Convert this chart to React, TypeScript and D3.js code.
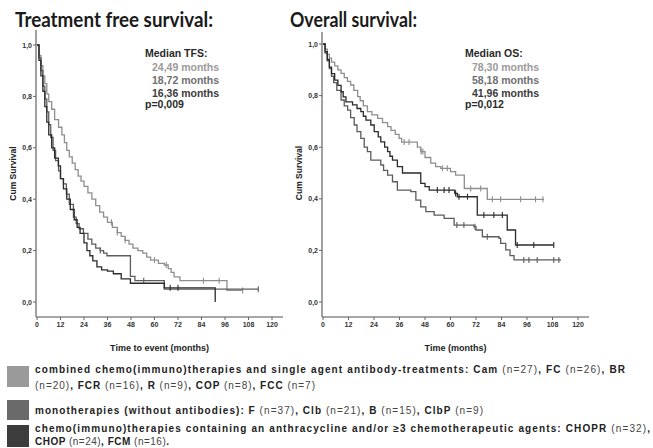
import React from "react";
import * as d3 from "d3";

type Pt = [number, number];

// ---------- data ----------
const monthTicks = [0, 12, 24, 36, 48, 60, 72, 84, 96, 108, 120];
const survTicks = [0, 0.2, 0.4, 0.6, 0.8, 1.0];
const survTickLabels = ["0,0", "0,2", "0,4", "0,6", "0,8", "1,0"];

// Treatment free survival (time in months, cumulative survival)
const tfsCombined: Pt[] = [
  [0, 1], [1, 0.96], [2, 0.92], [3, 0.88], [4, 0.85], [5, 0.81], [6, 0.78], [7.5, 0.75], [9, 0.71],
  [11, 0.68], [12.7, 0.65], [14, 0.62], [15.2, 0.59], [16.5, 0.565], [18, 0.54], [19.5, 0.515],
  [21, 0.49], [22.5, 0.47], [24, 0.45], [26, 0.425], [28, 0.4], [30, 0.375], [32, 0.35], [34, 0.33],
  [36, 0.31], [38.5, 0.29], [41, 0.27], [43, 0.255], [45, 0.24], [47, 0.225], [49, 0.21], [51.5, 0.2],
  [54, 0.19], [56, 0.175], [58, 0.163], [62, 0.15], [65, 0.144], [67, 0.13], [68.5, 0.115],
  [70, 0.098], [73, 0.083], [97, 0.045], [105, 0.045],
];
const tfsCombinedCensor = [38, 41, 45, 60, 66, 85, 93, 105];

const tfsMono: Pt[] = [
  [0, 1], [1, 0.95], [2, 0.9], [3, 0.84], [4, 0.79], [5, 0.74], [6, 0.69], [7, 0.64], [8.2, 0.59],
  [9.5, 0.55], [11, 0.51], [12, 0.48], [13.5, 0.46], [15, 0.42], [16.5, 0.38], [18.6, 0.33],
  [20, 0.305], [21.5, 0.285], [23.7, 0.267], [26, 0.245], [28, 0.225], [30, 0.21], [32.3, 0.2],
  [34, 0.19], [35.7, 0.18], [47.7, 0.1], [50, 0.083], [65, 0.05], [113, 0.05],
];
const tfsMonoCensor = [32.3, 54.5, 113];

const tfsAnthra: Pt[] = [
  [0, 1], [1, 0.94], [2, 0.88], [3, 0.82], [4, 0.76], [5, 0.7], [6, 0.65], [7.5, 0.6], [9, 0.56],
  [10.9, 0.53], [12, 0.48], [13.5, 0.44], [15.2, 0.4], [17, 0.36], [19, 0.32], [20.5, 0.29],
  [22, 0.267], [24, 0.23], [25.5, 0.2], [27, 0.18], [28.5, 0.16], [30.6, 0.137], [33, 0.125],
  [36, 0.12], [39, 0.11], [43, 0.09], [47.7, 0.073], [65, 0.055], [91, 0],
];
const tfsAnthraCensor = [68, 72];

// Overall survival
const osCombined: Pt[] = [
  [0, 1], [1, 0.98], [2, 0.96], [3, 0.945], [4, 0.93], [5.5, 0.915], [7, 0.9], [8.5, 0.886],
  [10, 0.87], [11.5, 0.855], [13, 0.841], [14.5, 0.82], [16.3, 0.796], [17.5, 0.78], [19, 0.76],
  [20.9, 0.738], [23, 0.725], [25.7, 0.712], [28, 0.695], [30.4, 0.68], [32, 0.665], [34, 0.65],
  [35.8, 0.634], [37, 0.62], [44.4, 0.6], [46, 0.583], [48, 0.56], [50.7, 0.538], [53, 0.525],
  [55.4, 0.518], [60, 0.505], [62.4, 0.492], [66.5, 0.44], [77.3, 0.398], [104, 0.398],
];
const osCombinedCensor = [38.2, 40.5, 46.2, 47, 56.2, 58.5, 69.5, 74.2, 79.7, 83.6, 93, 100, 103.5];

const osAnthra: Pt[] = [
  [0, 1], [1, 0.97], [2, 0.94], [3, 0.91], [4, 0.885], [5.5, 0.86], [7, 0.84], [8.5, 0.815],
  [9.5, 0.795], [10.8, 0.776], [13.9, 0.764], [16, 0.75], [17.8, 0.738], [19, 0.72], [20.2, 0.705],
  [22.5, 0.686], [24.1, 0.66], [26, 0.64], [27.2, 0.621], [29, 0.6], [30.4, 0.583], [31.5, 0.565],
  [32.7, 0.55], [35, 0.525], [37.4, 0.5], [46, 0.46], [48, 0.447], [50, 0.434], [62, 0.421],
  [63.2, 0.408], [72.6, 0.337], [86.7, 0.279], [90.6, 0.221], [108.6, 0.221],
];
const osAnthraCensor = [53.8, 57, 59.3, 62.4, 64, 68, 75.7, 80.4, 84.4, 91.4, 99.2, 108.6];

const osMono: Pt[] = [
  [0, 1], [1, 0.965], [2, 0.935], [3, 0.905], [4, 0.875], [5, 0.85], [6.5, 0.82], [8.5, 0.783],
  [10, 0.76], [11.6, 0.744], [13, 0.715], [14.7, 0.686], [16, 0.66], [17.8, 0.634], [19.4, 0.6],
  [20.9, 0.583], [22.5, 0.55], [27.2, 0.531], [28.5, 0.51], [30.4, 0.492], [32.7, 0.466],
  [35, 0.434], [41.3, 0.428], [43.7, 0.395], [46, 0.369], [48.4, 0.35], [52.3, 0.337], [57, 0.324],
  [61.7, 0.298], [71, 0.292], [72, 0.279], [75, 0.253], [82.8, 0.247], [83.6, 0.227], [86, 0.202],
  [88, 0.18], [89.9, 0.163], [112, 0.163],
];
const osMonoCensor = [63, 66.3, 71.5, 77.3, 94.5, 96.9, 100.8, 108.6, 111];

const tfsMedians = ["24,49 months", "18,72 months", "16,36 months"];
const osMedians = ["78,30 months", "58,18 months", "41,96 months"];

// ---------- styles ----------
const C_LIGHT = "#8e8e8e";
const C_MED = "#5c5c5c";
const C_DARK = "#2b2b2b";
const FONT = "'Liberation Sans', Arial, sans-serif";

function valueAt(pts: Pt[], t: number) {
  let v = pts[0][1];
  for (const p of pts) if (p[0] <= t) v = p[1];
  return v;
}

type Series = { pts: Pt[]; censor: number[]; color: string };

function KMPanel(props: {
  x0: number; x1: number; axisEnd: number; yTop: number; yBottom: number; axisTop: number;
  axisY: number; series: Series[]; xTitle: string;
}) {
  const { x0, x1, axisEnd, yTop, yBottom, axisTop, axisY, series, xTitle } = props;
  const x = d3.scaleLinear().domain([0, 120]).range([x0, x1]);
  const y = d3.scaleLinear().domain([0, 1]).range([yBottom, yTop]);
  const line = d3.line<Pt>().x((d) => x(d[0])).y((d) => y(d[1])).curve(d3.curveStepAfter);
  const ax = x0 - 1;
  return (
    <g fontFamily={FONT}>
      <line x1={ax} x2={ax} y1={axisTop} y2={axisY} stroke="#8a8a8a" strokeWidth={1.6} />
      <line x1={ax} x2={axisEnd} y1={axisY} y2={axisY} stroke="#8a8a8a" strokeWidth={1.6} />
      {survTicks.map((v, i) => (
        <g key={"y" + i}>
          <line x1={ax - 3} x2={ax} y1={y(v)} y2={y(v)} stroke="#666" strokeWidth={1} />
          <text x={ax - 4} y={y(v) + 2.5} fontSize={7} fontWeight="bold" textAnchor="end" fill="#333">
            {survTickLabels[i]}
          </text>
        </g>
      ))}
      {monthTicks.map((v) => (
        <g key={"x" + v}>
          <line x1={x(v)} x2={x(v)} y1={axisY} y2={axisY + 3} stroke="#666" strokeWidth={1} />
          <text x={x(v)} y={axisY + 10} fontSize={7} fontWeight="bold" textAnchor="middle" fill="#333">
            {v}
          </text>
        </g>
      ))}
      <text x={(ax + axisEnd) / 2} y={axisY + 34} fontSize={9} fontWeight="bold" textAnchor="middle" fill="#222">
        {xTitle}
      </text>
      <text
        transform={`translate(${ax - 20},${(yTop + yBottom) / 2}) rotate(-90)`}
        fontSize={8.5} fontWeight="bold" textAnchor="middle" fill="#222"
      >
        Cum Survival
      </text>
      {series.map((s, i) => (
        <g key={"s" + i}>
          <path d={line(s.pts) || ""} fill="none" stroke={s.color} strokeWidth={1.3} />
          {s.censor.map((c, j) => (
            <line key={j} x1={x(c)} x2={x(c)} y1={y(valueAt(s.pts, c)) - 3} y2={y(valueAt(s.pts, c)) + 3}
              stroke={s.color} strokeWidth={1.1} />
          ))}
        </g>
      ))}
    </g>
  );
}

function Medians(props: { x: number; title: string; lines: string[]; p: string }) {
  const { x, title, lines, p } = props;
  const colors = ["#9a9a9a", "#707070", "#3a3a3a"];
  return (
    <g fontFamily={FONT} fontWeight="bold" fontSize={10.5}>
      <text x={x} y={57} fill="#2a2a2a">{title}</text>
      {lines.map((l, i) => (
        <text key={i} x={x + 7} y={70.5 + i * 13} fill={colors[i]}>{l}</text>
      ))}
      <text x={x} y={108} fill="#2a2a2a">{p}</text>
    </g>
  );
}

type Seg = { t: string; b: boolean };
function LegendLine(props: { x: number; y: number; w?: number; segs: Seg[] }) {
  const { x, y, w, segs } = props;
  return (
    <text x={x} y={y} fontFamily={FONT} fontSize={10} fill="#222"
      {...(w ? { textLength: w, lengthAdjust: "spacing" } : {})}>
      {segs.map((s, i) => (
        <tspan key={i} fontWeight={s.b ? "bold" : "normal"} fill={s.b ? "#222" : "#444"}>{s.t}</tspan>
      ))}
    </text>
  );
}

const legendColors = ["#9a9a9a", "#6a6a6a", "#3c3c3c"];

export default function App() {
  return (
    <svg width={653} height={448} style={{ position: "absolute", left: 0, top: 0, background: "#fff" }}>
      <rect width={653} height={448} fill="#fff" />
      <text x={15} y={27} fontFamily="Lato, 'Open Sans', sans-serif" fontWeight="bold" fontSize={20}
        textLength={198} lengthAdjust="spacingAndGlyphs" fill="#1a1a1a">
        Treatment free survival:
      </text>
      <text x={290} y={27} fontFamily="Lato, 'Open Sans', sans-serif" fontWeight="bold" fontSize={20}
        textLength={127} lengthAdjust="spacingAndGlyphs" fill="#1a1a1a">
        Overall survival:
      </text>

      <KMPanel x0={37} x1={272} axisEnd={283} yTop={45} yBottom={302} axisTop={30} axisY={317}
        xTitle="Time to event (months)"
        series={[
          { pts: tfsCombined, censor: tfsCombinedCensor, color: C_LIGHT },
          { pts: tfsMono, censor: tfsMonoCensor, color: C_MED },
          { pts: tfsAnthra, censor: tfsAnthraCensor, color: C_DARK },
        ]} />
      <KMPanel x0={323} x1={578} axisEnd={589} yTop={44} yBottom={302} axisTop={32} axisY={317}
        xTitle="Time (months)"
        series={[
          { pts: osCombined, censor: osCombinedCensor, color: C_LIGHT },
          { pts: osMono, censor: osMonoCensor, color: C_MED },
          { pts: osAnthra, censor: osAnthraCensor, color: C_DARK },
        ]} />

      <Medians x={145} title="Median TFS:" lines={tfsMedians} p="p=0,009" />
      <Medians x={465} title="Median OS:" lines={osMedians} p="p=0,012" />

      <rect x={7} y={366} width={22} height={21} fill={legendColors[0]} />
      <rect x={7} y={400} width={22} height={20} fill={legendColors[1]} />
      <rect x={7} y={425} width={22} height={22} fill={legendColors[2]} />

      <LegendLine x={35} y={373} w={590} segs={[
        { t: "combined chemo(immuno)therapies and single agent antibody-treatments: Cam ", b: true },
        { t: "(n=27)", b: false }, { t: ", FC ", b: true }, { t: "(n=26)", b: false }, { t: ", BR", b: true },
      ]} />
      <LegendLine x={35} y={389} w={280} segs={[
        { t: "(n=20)", b: false }, { t: ", FCR ", b: true }, { t: "(n=16)", b: false },
        { t: ", R ", b: true }, { t: "(n=9)", b: false }, { t: ", COP ", b: true }, { t: "(n=8)", b: false },
        { t: ", FCC ", b: true }, { t: "(n=7)", b: false },
      ]} />
      <LegendLine x={35} y={414} w={448} segs={[
        { t: "monotherapies (without antibodies): F ", b: true }, { t: "(n=37)", b: false },
        { t: ", Clb ", b: true }, { t: "(n=21)", b: false }, { t: ", B ", b: true }, { t: "(n=15)", b: false },
        { t: ", ClbP ", b: true }, { t: "(n=9)", b: false },
      ]} />
      <LegendLine x={35} y={432} w={615} segs={[
        { t: "chemo(immuno)therapies containing an anthracycline and/or \u22653 chemotherapeutic agents: CHOPR ", b: true },
        { t: "(n=32)", b: false }, { t: ",", b: true },
      ]} />
      <LegendLine x={35} y={445} w={134} segs={[
        { t: "CHOP ", b: true }, { t: "(n=24)", b: false }, { t: ", FCM ", b: true }, { t: "(n=16)", b: false },
        { t: ".", b: true },
      ]} />
    </svg>
  );
}
